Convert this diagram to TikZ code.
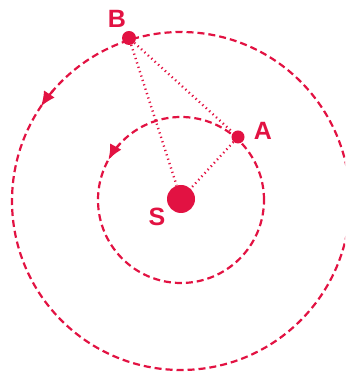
\documentclass[tikz,border=0pt]{standalone}
\usepackage{fontspec}
\setmainfont{Liberation Sans}
\usetikzlibrary{arrows.meta}
\definecolor{crim}{RGB}{226,18,66}
\begin{document}
\begin{tikzpicture}[x=1pt,y=1pt,
  orbit/.style={crim,line width=2.2pt,dash pattern=on 7pt off 4pt},
  ray/.style={crim,line width=2.4pt,dash pattern=on 1.2pt off 3.4pt},
  tipline/.style={crim,line width=2.2pt,-{Latex[length=15pt,width=13pt]}},
  lbl/.style={text=crim,font=\fontsize{25}{25}\selectfont\bfseries,inner sep=0pt}]
\useasboundingbox (0,0) rectangle (345,374);
\clip (0,0) rectangle (345,374);
\coordinate (O) at (181,174);
\coordinate (Oo) at (181,173);
\draw[orbit] (O) circle[radius=83];
\draw[orbit] (Oo) circle[radius=169];
\draw[tipline] (Oo) ++(139:169) arc (139:146:169);
\draw[tipline] (O) ++(138:83) arc (138:151:83);
\node[circle,fill=crim,minimum size=28pt,inner sep=0pt] (S) at (181,175) {};
\node[circle,fill=crim,minimum size=13pt,inner sep=0pt] (A) at (238,237) {};
\node[circle,fill=crim,minimum size=14pt,inner sep=0pt] (B) at (129,336) {};
\draw[ray] (B) -- (S);
\draw[ray] (B) -- (A);
\draw[ray] (A) -- (S);
\node[lbl] (lB) at (117,355) {B};
\node[lbl] (lA) at (263,243) {A};
\node[lbl] (lS) at (157,157) {S};
\end{tikzpicture}
\end{document}
